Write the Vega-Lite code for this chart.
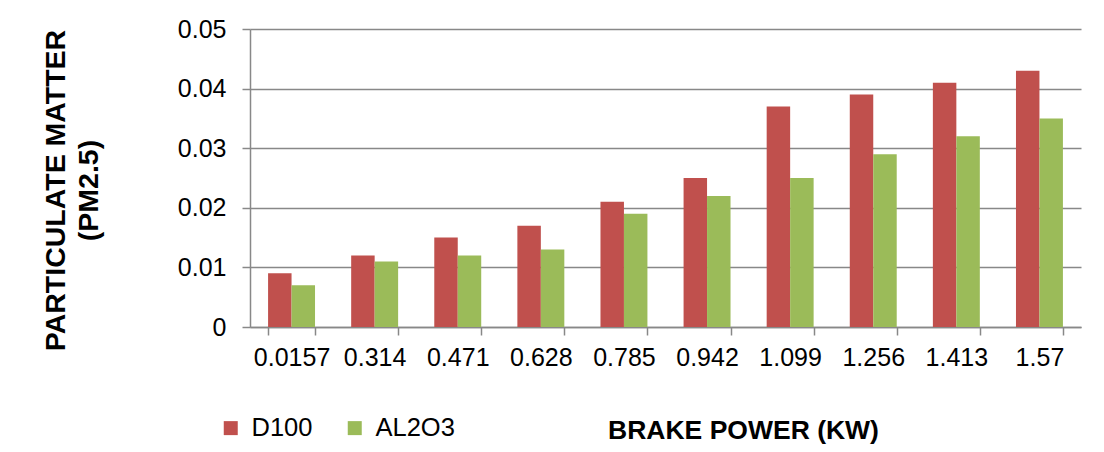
{
  "$schema": "https://vega.github.io/schema/vega-lite/v6.json",
  "width": 831,
  "height": 298,
  "autosize": {"type": "none"},
  "padding": {"left": 250, "top": 29, "right": 23, "bottom": 125},
  "background": "white",
  "data": {
    "values": [
      {"power": "0.0157", "fuel": "D100", "pm": 0.009},
      {"power": "0.0157", "fuel": "AL2O3", "pm": 0.007},
      {"power": "0.314", "fuel": "D100", "pm": 0.012},
      {"power": "0.314", "fuel": "AL2O3", "pm": 0.011},
      {"power": "0.471", "fuel": "D100", "pm": 0.015},
      {"power": "0.471", "fuel": "AL2O3", "pm": 0.012},
      {"power": "0.628", "fuel": "D100", "pm": 0.017},
      {"power": "0.628", "fuel": "AL2O3", "pm": 0.013},
      {"power": "0.785", "fuel": "D100", "pm": 0.021},
      {"power": "0.785", "fuel": "AL2O3", "pm": 0.019},
      {"power": "0.942", "fuel": "D100", "pm": 0.025},
      {"power": "0.942", "fuel": "AL2O3", "pm": 0.022},
      {"power": "1.099", "fuel": "D100", "pm": 0.037},
      {"power": "1.099", "fuel": "AL2O3", "pm": 0.025},
      {"power": "1.256", "fuel": "D100", "pm": 0.039},
      {"power": "1.256", "fuel": "AL2O3", "pm": 0.029},
      {"power": "1.413", "fuel": "D100", "pm": 0.041},
      {"power": "1.413", "fuel": "AL2O3", "pm": 0.032},
      {"power": "1.57", "fuel": "D100", "pm": 0.043},
      {"power": "1.57", "fuel": "AL2O3", "pm": 0.035}
    ]
  },
  "mark": {"type": "bar"},
  "encoding": {
    "x": {
      "field": "power",
      "type": "nominal",
      "sort": null,
      "scale": {"paddingInner": 0.435, "paddingOuter": 0.2175},
      "axis": {
        "title": "BRAKE POWER (KW)",
        "titleFont": "Liberation Sans",
        "titleFontSize": 26.5,
        "titleFontWeight": "bold",
        "titleColor": "black",
        "titleX": 493,
        "titleY": 111,
        "titleAnchor": "middle",
        "titleAlign": "center",
        "titleBaseline": "alphabetic",
        "labelAngle": 0,
        "labelFont": "Liberation Sans",
        "labelFontSize": 25,
        "labelColor": "black",
        "labelPadding": 10,
        "tickBand": "extent",
        "tickSize": 8,
        "tickColor": "#888888",
        "tickWidth": 1.5,
        "domainColor": "#888888",
        "domainWidth": 1.5,
        "grid": false
      }
    },
    "xOffset": {"field": "fuel", "type": "nominal", "sort": ["D100", "AL2O3"], "scale": {"paddingInner": 0, "paddingOuter": 0}},
    "y": {
      "field": "pm",
      "type": "quantitative",
      "scale": {"domain": [0, 0.05], "nice": false},
      "axis": {
        "title": ["PARTICULATE MATTER", "(PM2.5)"],
        "titleFont": "Liberation Sans",
        "titleFontSize": 28.5,
        "titleFontWeight": "bold",
        "titleColor": "black",
        "titleAngle": -90,
        "titleAlign": "center",
        "titleBaseline": "middle",
        "titleLineHeight": 33,
        "titleX": -195,
        "titleY": 161,
        "values": [0, 0.01, 0.02, 0.03, 0.04, 0.05],
        "format": "~g",
        "labelFont": "Liberation Sans",
        "labelFontSize": 25,
        "labelColor": "black",
        "labelPadding": 16,
        "tickSize": 8,
        "tickColor": "#888888",
        "tickWidth": 1.5,
        "domainColor": "#888888",
        "domainWidth": 1.5,
        "grid": true,
        "gridColor": "#888888",
        "gridWidth": 1.5
      }
    },
    "color": {
      "field": "fuel",
      "type": "nominal",
      "sort": ["D100", "AL2O3"],
      "scale": {"domain": ["D100", "AL2O3"], "range": ["#C0504D", "#9BBB59"]},
      "legend": {
        "title": null,
        "orient": "none",
        "direction": "horizontal",
        "legendX": -32,
        "legendY": 386,
        "symbolType": "square",
        "symbolSize": 196,
        "symbolStrokeWidth": 0,
        "labelFont": "Liberation Sans",
        "labelFontSize": 25.5,
        "labelColor": "black",
        "labelOffset": 8,
        "columnPadding": 29
      }
    }
  },
  "config": {
    "view": {"stroke": null},
    "axis": {"labelOverlap": false}
  }
}
